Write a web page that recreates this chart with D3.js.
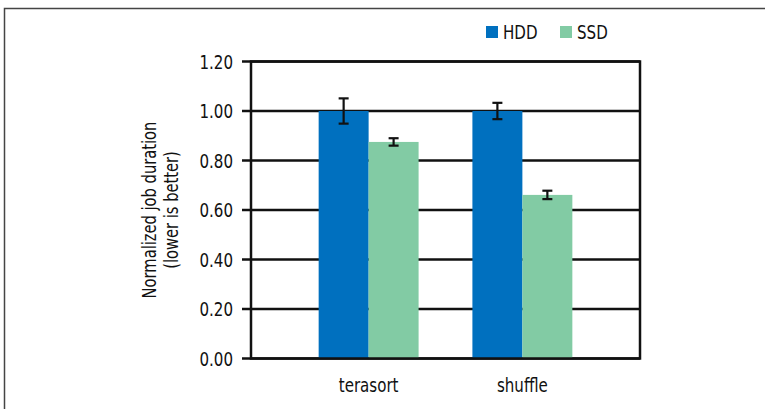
<!DOCTYPE html>
<html>
<head>
<meta charset="utf-8">
<script src="https://cdn.jsdelivr.net/npm/d3@7"></script>
<style>
  body { margin: 0; background: #fff; }
  svg text { font-family: "DejaVu Sans Condensed", "Liberation Sans Narrow", sans-serif; fill: #111; }
</style>
</head>
<body>
<svg id="chart" width="765" height="409"></svg>
<script>
const categories = ["terasort", "shuffle"];
const seriesNames = ["HDD", "SSD"];
const seriesColors = ["#0070bf", "#82cba4"];
const hddValues = [1.0, 1.0];
const ssdValues = [0.875, 0.661];
const hddErrors = [0.051, 0.033];
const ssdErrors = [0.015, 0.017];
const yTicks = [0, 0.2, 0.4, 0.6, 0.8, 1.0, 1.2];

const data = [];
categories.forEach((c, i) => {
  data.push({ cat: c, series: "HDD", value: hddValues[i], err: hddErrors[i] });
  data.push({ cat: c, series: "SSD", value: ssdValues[i], err: ssdErrors[i] });
});

const svg = d3.select("#chart");
const plotLeft = 251, plotRight = 640, plotTop = 61.5, plotBottom = 358.5;
const squeeze = 0.86; // narrow the font to look like the condensed original

function place(x, y) {
  return "translate(" + x + "," + y + ") scale(" + squeeze + ",1)";
}

// outer frame (only top/left edges visible in the picture)
svg.append("path")
  .attr("d", "M4.5,409 L4.5,8.5 L765,8.5")
  .attr("fill", "none")
  .attr("stroke", "#444")
  .attr("stroke-width", 1.5);

const x0 = d3.scaleBand().domain(categories).range([plotLeft, plotRight])
  .paddingInner(0.35).paddingOuter(0.44);
const x1 = d3.scaleBand().domain(seriesNames).range([0, x0.bandwidth()]);
const y = d3.scaleLinear().domain([0, 1.2]).range([plotBottom, plotTop]);
const color = d3.scaleOrdinal().domain(seriesNames).range(seriesColors);

// grid lines
svg.append("g")
  .selectAll("line")
  .data(yTicks)
  .join("line")
  .attr("x1", plotLeft - 9)
  .attr("x2", plotRight)
  .attr("y1", d => y(d))
  .attr("y2", d => y(d))
  .attr("stroke", "#111")
  .attr("stroke-width", 2.5);

// y axis labels
svg.append("g")
  .selectAll("text")
  .data(yTicks)
  .join("text")
  .attr("transform", d => place(233, y(d)))
  .attr("dy", "0.36em")
  .attr("text-anchor", "end")
  .attr("font-size", "19.5px")
  .text(d => d3.format(".2f")(d));

// bars
svg.append("g")
  .selectAll("rect")
  .data(data)
  .join("rect")
  .attr("x", d => x0(d.cat) + x1(d.series))
  .attr("y", d => y(d.value))
  .attr("width", x1.bandwidth())
  .attr("height", d => y(0) - y(d.value))
  .attr("fill", d => color(d.series));

// error bars
const eb = svg.append("g").attr("stroke", "#111").attr("stroke-width", 2.2);
data.forEach(d => {
  const cx = x0(d.cat) + x1(d.series) + x1.bandwidth() / 2;
  eb.append("line").attr("x1", cx).attr("x2", cx)
    .attr("y1", y(d.value + d.err)).attr("y2", y(d.value - d.err));
  [d.value + d.err, d.value - d.err].forEach(v => {
    eb.append("line").attr("x1", cx - 5).attr("x2", cx + 5)
      .attr("y1", y(v)).attr("y2", y(v));
  });
});

// plot border
svg.append("rect")
  .attr("x", plotLeft)
  .attr("y", plotTop)
  .attr("width", plotRight - plotLeft)
  .attr("height", plotBottom - plotTop)
  .attr("fill", "none")
  .attr("stroke", "#111")
  .attr("stroke-width", 2.5);

// x labels
svg.append("g")
  .selectAll("text")
  .data(categories)
  .join("text")
  .attr("transform", d => place(x0(d) + x0.bandwidth() / 2, 392))
  .attr("text-anchor", "middle")
  .attr("font-size", "19.5px")
  .text(d => d);

// y axis title
const yt = svg.append("text")
  .attr("transform", "translate(160," + (plotTop + plotBottom) / 2 + ") rotate(-90) scale(" + squeeze + ",1)")
  .attr("text-anchor", "middle")
  .attr("font-size", "19px");
yt.append("tspan").attr("x", 0).attr("dy", "-0.2em").text("Normalized job duration");
yt.append("tspan").attr("x", 0).attr("dy", "1.15em").text("(lower is better)");

// legend
const legend = svg.append("g");
const legendX = [486, 560];
seriesNames.forEach((s, i) => {
  legend.append("rect")
    .attr("x", legendX[i]).attr("y", 26)
    .attr("width", 12).attr("height", 12)
    .attr("fill", seriesColors[i]);
  legend.append("text")
    .attr("transform", place(legendX[i] + 17, 32))
    .attr("dy", "0.36em")
    .attr("font-size", "19.5px")
    .text(s);
});
</script>
</body>
</html>
